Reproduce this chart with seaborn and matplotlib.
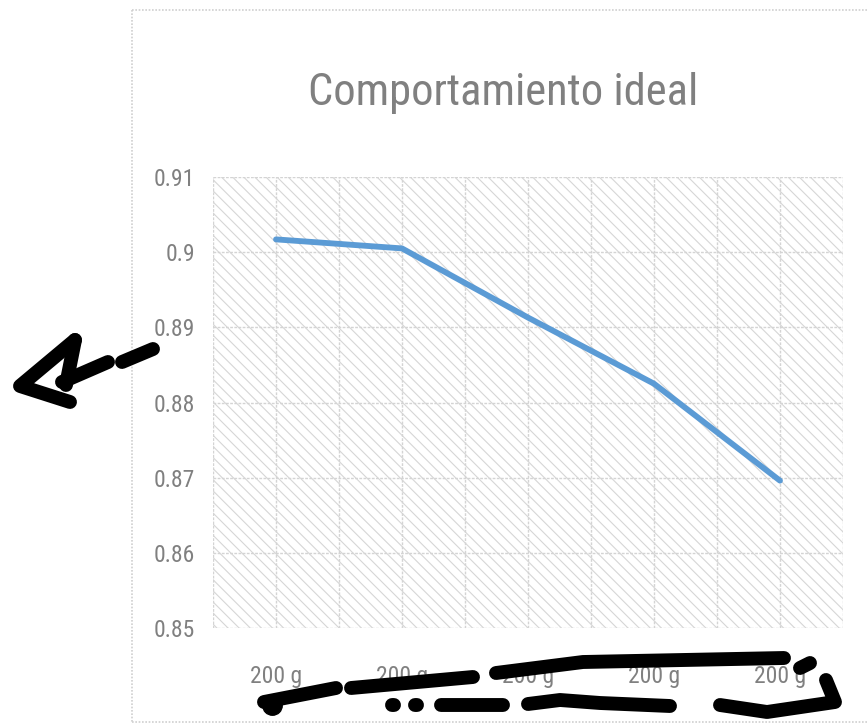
import matplotlib
matplotlib.use("Agg")
import matplotlib.pyplot as plt
from matplotlib.patches import Rectangle
from matplotlib.lines import Line2D
from matplotlib import font_manager
import seaborn as sns
import pandas as pd
import numpy as np

# chart data
categories = ["200 g", "200 g", "200 g", "200 g", "200 g"]
values = [0.9017, 0.9005, 0.8913, 0.8825, 0.8696]
y_ticks = [0.85, 0.86, 0.87, 0.88, 0.89, 0.90, 0.91]
y_tick_labels = ["0.85", "0.86", "0.87", "0.88", "0.89", "0.9", "0.91"]
title = "Comportamiento ideal"

sns.set_theme(style="white")

# prefer a narrow face for the Calibri-like look
fonts = font_manager.fontManager.ttflist
names = {f.name for f in fonts}
family, stretch = "Liberation Sans", "normal"
for cand in ["Liberation Sans Narrow", "Roboto Condensed", "Open Sans Condensed",
             "Noto Sans Condensed", "DejaVu Sans Condensed"]:
    if cand in names:
        family = cand
        break
else:
    for f in fonts:
        if f.stretch in ("condensed", "semi-condensed", "extra-condensed") and f.style == "normal":
            family, stretch = f.name, f.stretch
            break
plt.rcParams["font.family"] = [family, "DejaVu Sans"]
plt.rcParams["font.stretch"] = stretch

W, H = 868, 724
fig = plt.figure(figsize=(W / 100, H / 100), dpi=100)

def fx(px):
    return px / W

def fy(py):
    return 1 - py / H

ax = fig.add_axes([fx(213), fy(628), fx(843) - fx(213), fy(177) - fy(628)])

df = pd.DataFrame({"pos": np.arange(len(values)), "value": values})

# hatched plot area
plt.rcParams["hatch.linewidth"] = 0.8
ax.add_patch(Rectangle((0, 0), 1, 1, transform=ax.transAxes, facecolor="white",
                       edgecolor="#d6d6d6", hatch="\\\\\\", linewidth=0, zorder=0))

sns.lineplot(data=df, x="pos", y="value", ax=ax, color="#5b9bd5", linewidth=4.2,
             zorder=3, legend=False)

ax.set_xlim(-0.5, len(values) - 0.5)
ax.set_ylim(y_ticks[0], y_ticks[-1])
ax.set_yticks(y_ticks)
ax.set_yticklabels(y_tick_labels)
ax.set_xticks(df["pos"])
ax.set_xticklabels(categories)
ax.set_xticks(np.arange(-0.5, len(values), 1.0), minor=True)
ax.set_xlabel("")
ax.set_ylabel("")

ax.grid(True, which="both", axis="x", color="#d4d4d4", linewidth=1.0, linestyle=(0, (2, 1)), zorder=1)
ax.grid(True, which="major", axis="y", color="#d4d4d4", linewidth=1.0, linestyle=(0, (2, 1)), zorder=1)
ax.set_axisbelow(True)
for s in ax.spines.values():
    s.set_visible(False)
ax.tick_params(axis="both", which="both", length=0)
ax.tick_params(axis="y", pad=13, labelsize=17, labelcolor="#808080")
ax.tick_params(axis="x", pad=27, labelsize=17, labelcolor="#808080")

fig.text(fx(503), fy(93), title, ha="center", va="center", fontsize=32, color="#808080")

# chart frame
frame = dict(transform=fig.transFigure, color="#d0d0d0", linewidth=1.2, linestyle=(0, (1, 1)))
fig.add_artist(Line2D([fx(132), fx(132)], [fy(10), fy(722)], **frame))
fig.add_artist(Line2D([fx(132), fx(868)], [fy(10), fy(10)], **frame))
fig.add_artist(Line2D([fx(132), fx(868)], [fy(722), fy(722)], **frame))

# hand-drawn marker strokes
strokes = [
    [(122, 362), (153, 349)],
    [(108, 362), (62, 382)],
    [(75, 340), (20, 386), (70, 402)],
    [(75, 340), (66, 385)],
    [(264, 702), (336, 688)],
    [(351, 688), (473, 677)],
    [(392, 705), (394, 705)],
    [(415, 705), (417, 705)],
    [(441, 705), (503, 705)],
    [(496, 673), (583, 662), (784, 658)],
    [(800, 668), (810, 663)],
    [(528, 704), (560, 700), (600, 703), (670, 706)],
    [(720, 705), (767, 712), (835, 702), (826, 680)],
]
for pts in strokes:
    xs = [fx(p[0]) for p in pts]
    ys = [fy(p[1]) for p in pts]
    fig.add_artist(Line2D(xs, ys, transform=fig.transFigure, color="black",
                          linewidth=10, solid_capstyle="round", solid_joinstyle="round"))
fig.add_artist(Line2D([fx(272)], [fy(705)], transform=fig.transFigure, marker="o",
                      markersize=14, color="black"))

fig.savefig("out.png", dpi=100)
